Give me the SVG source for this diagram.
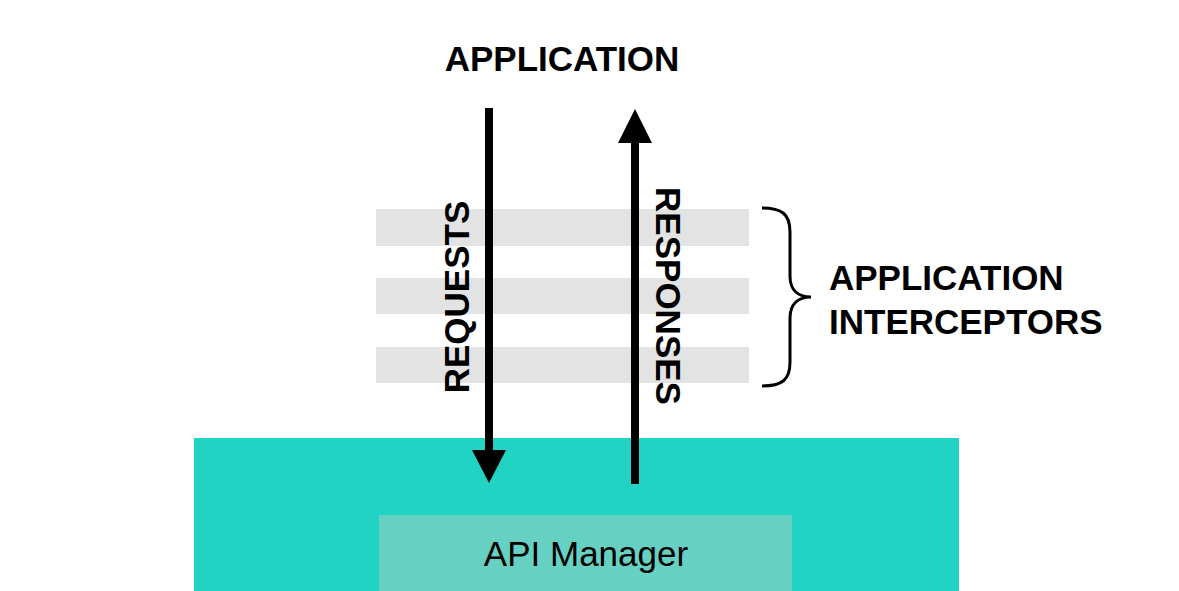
<svg xmlns="http://www.w3.org/2000/svg" width="1179" height="591" viewBox="0 0 1179 591">
<style>
.lbl{font-family:"Liberation Sans",Arial,sans-serif;font-weight:bold;font-size:35px;fill:#000}
.band{fill:#e3e3e3}
.arr{stroke:#000;stroke-width:8;fill:none}
</style>
<rect width="1179" height="591" fill="#fff"/>
<g id="interceptors">
<rect class="band" x="376" y="209" width="373" height="37"/>
<rect class="band" x="376" y="278" width="373" height="36"/>
<rect class="band" x="376" y="347" width="373" height="36"/>
</g>
<g id="gateway">
<rect x="194" y="438" width="765" height="153" fill="#21d3c3"/>
</g>
<g id="api-manager">
<rect x="379" y="515" width="413" height="76" fill="#66d1c2"/>
<text x="586" y="566" text-anchor="middle" style="font-family:'Liberation Sans',Arial,sans-serif;font-size:35px;fill:#000">API Manager</text>
</g>
<g id="application">
<text class="lbl" x="562" y="71" text-anchor="middle">APPLICATION</text>
</g>
<g id="interceptor-label">
<path d="M762,208 C782,208 790,214 790,232 L790,276 C790,290 798,297 811,297 C798,297 790,304 790,318 L790,362 C790,380 782,386 762,386" fill="none" stroke="#000" stroke-width="3"/>
<text class="lbl" x="829" y="290">APPLICATION</text>
<text class="lbl" x="829" y="334">INTERCEPTORS</text>
</g>
<g id="connectors">
<line class="arr" x1="489" y1="108" x2="489" y2="452"/>
<polygon points="472,450 506,450 489,483" fill="#000"/>
<line class="arr" x1="635" y1="484" x2="635" y2="140"/>
<polygon points="618,143 652,143 635,109" fill="#000"/>
<text class="lbl" transform="translate(469,297) rotate(-90)" text-anchor="middle">REQUESTS</text>
<text class="lbl" transform="translate(656,296) rotate(90)" text-anchor="middle">RESPONSES</text>
</g>
</svg>
